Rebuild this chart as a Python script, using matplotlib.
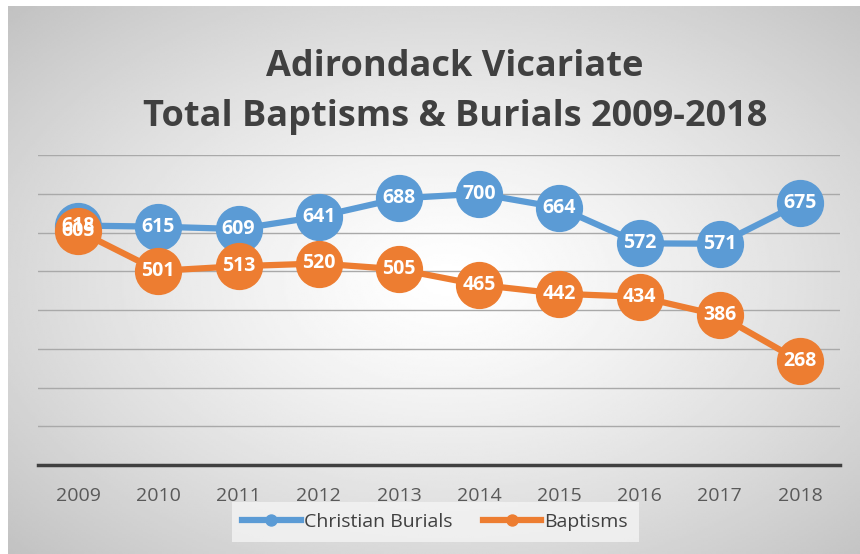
import numpy as np
import matplotlib
matplotlib.use("Agg")
import matplotlib.pyplot as plt

years = ["2009", "2010", "2011", "2012", "2013", "2014", "2015", "2016", "2017", "2018"]
burials = [618, 615, 609, 641, 688, 700, 664, 572, 571, 675]
baptisms = [605, 501, 513, 520, 505, 465, 442, 434, 386, 268]

blue = "#5B9BD5"
orange = "#ED7D31"
plt.rcParams["font.family"] = ["Open Sans", "DejaVu Sans"]

fig = plt.figure(figsize=(8.6, 5.54), dpi=100)

# radial grey background
bg = fig.add_axes([8 / 860, 0, 1 - 8 / 860, 1 - 6 / 554], zorder=-10)
gx, gy = np.meshgrid(np.linspace(-1, 1, 400), np.linspace(-1, 1, 260))
r = np.sqrt((gx - 0.03) ** 2 + gy ** 2)
shade = 1.0 - 0.17 * np.clip(r / 1.1, 0, 1.3) ** 1.3
bg.imshow(shade, cmap="gray", vmin=0, vmax=1, aspect="auto", extent=[0, 1, 0, 1])
bg.axis("off")

ax = fig.add_axes([38 / 860, 1 - 465 / 554, 802 / 860, 310 / 554])
ax.patch.set_alpha(0)
x = np.arange(len(years))

ax.plot(x, burials, color=blue, lw=4.5, marker="o", ms=33, zorder=3, label="Christian Burials")
ax.plot(x, baptisms, color=orange, lw=4.5, marker="o", ms=33, zorder=4, label="Baptisms")
for i in range(len(years)):
    ax.text(x[i], burials[i], str(burials[i]), color="white", fontsize=14, fontweight="bold",
            ha="center", va="center", zorder=5)
    ax.text(x[i], baptisms[i], str(baptisms[i]), color="white", fontsize=14, fontweight="bold",
            ha="center", va="center", zorder=6)

ax.set_xlim(-0.5, len(years) - 0.5)
ax.set_ylim(0, 800)
ax.set_yticks(range(100, 801, 100))
ax.set_yticklabels([])
ax.tick_params(axis="y", length=0)
ax.grid(axis="y", color="#a9a9a9", lw=1)
ax.set_axisbelow(True)
for s in ["top", "right", "left"]:
    ax.spines[s].set_visible(False)
ax.spines["bottom"].set_color("#404040")
ax.spines["bottom"].set_linewidth(2.5)
ax.set_xticks(x)
ax.set_xticklabels(years, fontsize=14, color="#595959")
ax.tick_params(axis="x", length=0, pad=16)

fig.text(0.529, 1 - 67 / 554, "Adirondack Vicariate", ha="center", va="center",
         fontsize=26, fontweight="bold", color="#404040")
fig.text(0.529, 1 - 117 / 554, "Total Baptisms & Burials 2009-2018", ha="center", va="center",
         fontsize=26, fontweight="bold", color="#404040")

leg = fig.legend(loc="center", bbox_to_anchor=(0.506, 1 - 522 / 554), ncol=2, fontsize=14,
                 frameon=True, markerscale=0.24, handlelength=3, columnspacing=1.6,
                 handletextpad=0.15, borderpad=0.3)
leg.get_frame().set_facecolor("#f4f4f4")
leg.get_frame().set_edgecolor("none")
leg.get_frame().set_boxstyle("square", pad=0.25)
for t in leg.get_texts():
    t.set_color("#404040")

fig.savefig("out.png", dpi=100)
